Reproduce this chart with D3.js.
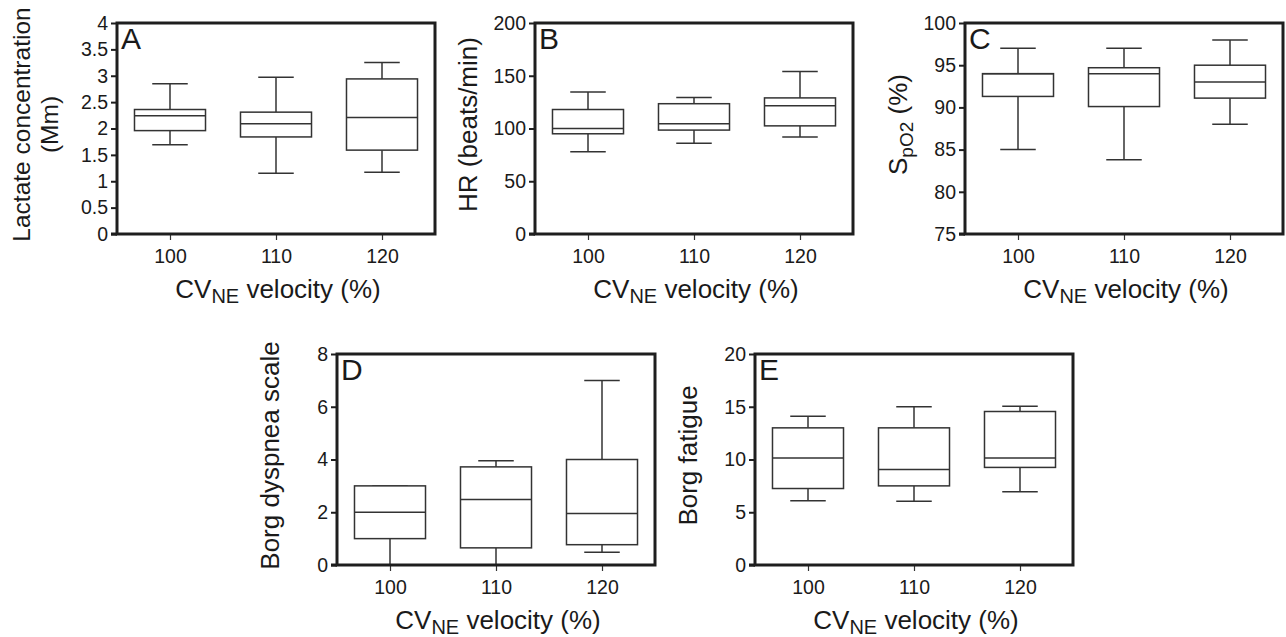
<!DOCTYPE html>
<html>
<head>
<meta charset="utf-8">
<script src="https://cdn.jsdelivr.net/npm/d3@7"></script>
<style>
  body { margin: 0; background: #fff; }
  text { font-family: "Liberation Sans", Arial, sans-serif; fill: #1a1a1a; }
</style>
</head>
<body>
<div id="chart"></div>
<script>
// velocity categories (% of CV_NE)
const categories = ["100", "110", "120"];

// five-number summaries per category: [low whisker, Q1, median, Q3, high whisker]
const lactate = [[1.69, 1.96, 2.24, 2.36, 2.85], [1.15, 1.84, 2.09, 2.31, 2.97], [1.17, 1.59, 2.21, 2.94, 3.25]];
const heartRate = [[78, 95, 100, 118, 134.5], [86, 98.5, 104.5, 123.5, 129.5], [92, 102.5, 121.5, 129, 154]];
const spo2 = [[85, 91.3, 94, 94, 97], [83.8, 90.1, 94, 94.7, 97], [88, 91.1, 93, 95, 98]];
const dyspnea = [[0, 1, 2, 3, 3], [0, 0.65, 2.48, 3.72, 3.95], [0.48, 0.77, 1.95, 4, 7]];
const fatigue = [[6.1, 7.25, 10.15, 13, 14.1], [6.05, 7.5, 9.05, 13, 15], [6.95, 9.25, 10.15, 14.55, 15.05]];

// y tick values
const lactateTicks = [0, 0.5, 1, 1.5, 2, 2.5, 3, 3.5, 4];
const heartRateTicks = [0, 50, 100, 150, 200];
const spo2Ticks = [75, 80, 85, 90, 95, 100];
const dyspneaTicks = [0, 2, 4, 6, 8];
const fatigueTicks = [0, 5, 10, 15, 20];

const W = 1286, H = 637;
const pw = 318, ph = 211;

const svg = d3.select("#chart").append("svg")
    .attr("width", W)
    .attr("height", H);

const panels = [
    { letter: "A", left: 117, top: 23, data: lactate, ticks: lactateTicks, domain: [0, 4], ylabel: ["Lactate concentration", "(Mm)"] },
    { letter: "B", left: 535, top: 23, data: heartRate, ticks: heartRateTicks, domain: [0, 200], ylabel: ["HR (beats/min)"] },
    { letter: "C", left: 965, top: 23, data: spo2, ticks: spo2Ticks, domain: [75, 100], ylabel: "spo2" },
    { letter: "D", left: 337, top: 354, data: dyspnea, ticks: dyspneaTicks, domain: [0, 8], ylabel: ["Borg dyspnea scale"] },
    { letter: "E", left: 755, top: 354, data: fatigue, ticks: fatigueTicks, domain: [0, 20], ylabel: ["Borg fatigue"] }
];

panels.forEach(p => drawPanel(p));

function drawPanel(p) {
    let g = svg.append("g")
        .attr("transform", "translate(" + p.left + "," + p.top + ")");

    let x = d3.scalePoint().domain(categories).range([0, pw]).padding(0.5);
    let y = d3.scaleLinear().domain(p.domain).range([ph, 0]);

    let boxW = x.step() * 0.67;
    let capW = boxW / 2;

    // y axis
    let yAxis = g.append("g")
        .call(d3.axisLeft(y).tickValues(p.ticks).tickSize(6).tickPadding(3).tickFormat(d3.format("~g")));
    yAxis.select(".domain").remove();
    yAxis.selectAll("line").attr("stroke", "#1e1e1e").attr("stroke-width", 2);
    yAxis.selectAll("text").attr("font-size", 19.5).attr("fill", "#1a1a1a")
        .style("font-family", "'Liberation Sans', Arial, sans-serif");

    // x axis
    let xAxis = g.append("g")
        .attr("transform", "translate(0," + ph + ")")
        .call(d3.axisBottom(x).tickSize(6).tickPadding(9.5));
    xAxis.select(".domain").remove();
    xAxis.selectAll("line").attr("stroke", "#333").attr("stroke-width", 1.2);
    xAxis.selectAll("text").attr("font-size", 19.5).attr("fill", "#1a1a1a")
        .style("font-family", "'Liberation Sans', Arial, sans-serif");

    // boxes
    let boxes = g.append("g").selectAll("g")
        .data(p.data)
        .join("g")
        .attr("transform", (d, i) => "translate(" + x(categories[i]) + ",0)");

    boxes.append("line")
        .attr("x1", 0).attr("x2", 0)
        .attr("y1", d => y(d[0])).attr("y2", d => y(d[1]))
        .attr("stroke", "#333").attr("stroke-width", 1.5);
    boxes.append("line")
        .attr("x1", 0).attr("x2", 0)
        .attr("y1", d => y(d[3])).attr("y2", d => y(d[4]))
        .attr("stroke", "#333").attr("stroke-width", 1.5);
    boxes.append("line")
        .attr("x1", -capW / 2).attr("x2", capW / 2)
        .attr("y1", d => y(d[0])).attr("y2", d => y(d[0]))
        .attr("stroke", "#333").attr("stroke-width", 1.5);
    boxes.append("line")
        .attr("x1", -capW / 2).attr("x2", capW / 2)
        .attr("y1", d => y(d[4])).attr("y2", d => y(d[4]))
        .attr("stroke", "#333").attr("stroke-width", 1.5);
    boxes.append("rect")
        .attr("x", -boxW / 2)
        .attr("width", boxW)
        .attr("y", d => y(d[3]))
        .attr("height", d => y(d[1]) - y(d[3]))
        .attr("fill", "#fff")
        .attr("stroke", "#333").attr("stroke-width", 1.5);
    boxes.append("line")
        .attr("x1", -boxW / 2).attr("x2", boxW / 2)
        .attr("y1", d => y(d[2])).attr("y2", d => y(d[2]))
        .attr("stroke", "#333").attr("stroke-width", 1.5);

    // frame
    g.append("rect")
        .attr("x", 0).attr("y", 0)
        .attr("width", pw).attr("height", ph)
        .attr("fill", "none")
        .attr("stroke", "#1e1e1e")
        .attr("stroke-width", 3);

    // bottom axis line reaching past the frame like the 0 tick
    g.append("line")
        .attr("x1", -6).attr("x2", 0)
        .attr("y1", ph).attr("y2", ph)
        .attr("stroke", "#1e1e1e").attr("stroke-width", 3);

    // panel letter
    g.append("text")
        .attr("x", 4).attr("y", 26)
        .attr("font-size", 30)
        .text(p.letter);

    // x label with subscript
    let xl = g.append("text")
        .attr("x", pw / 2 + 2)
        .attr("y", ph + 64)
        .attr("text-anchor", "middle")
        .attr("font-size", 26);
    xl.append("tspan").text("CV");
    xl.append("tspan").attr("font-size", 20).attr("dy", 5).text("NE");
    xl.append("tspan").attr("dy", -5).text(" velocity (%)");

    // y label
    let cy = ph / 2 - 4;
    if (p.ylabel === "spo2") {
        let yl = g.append("text")
            .attr("transform", "translate(-58," + cy + ") rotate(-90)")
            .attr("text-anchor", "middle")
            .attr("font-size", 26);
        yl.append("tspan").text("S");
        yl.append("tspan").attr("font-size", 19).attr("dy", 6).text("pO2");
        yl.append("tspan").attr("dy", -6).text(" (%)");
    } else if (p.ylabel.length === 2) {
        g.append("text")
            .attr("transform", "translate(-87," + cy + ") rotate(-90)")
            .attr("text-anchor", "middle")
            .attr("font-size", 24.5)
            .text(p.ylabel[0]);
        g.append("text")
            .attr("transform", "translate(-59," + cy + ") rotate(-90)")
            .attr("text-anchor", "middle")
            .attr("font-size", 24.5)
            .text(p.ylabel[1]);
    } else {
        g.append("text")
            .attr("transform", "translate(-58," + (ph / 2 - 4) + ") rotate(-90)")
            .attr("text-anchor", "middle")
            .attr("font-size", 26)
            .text(p.ylabel[0]);
    }
}
</script>
</body>
</html>
